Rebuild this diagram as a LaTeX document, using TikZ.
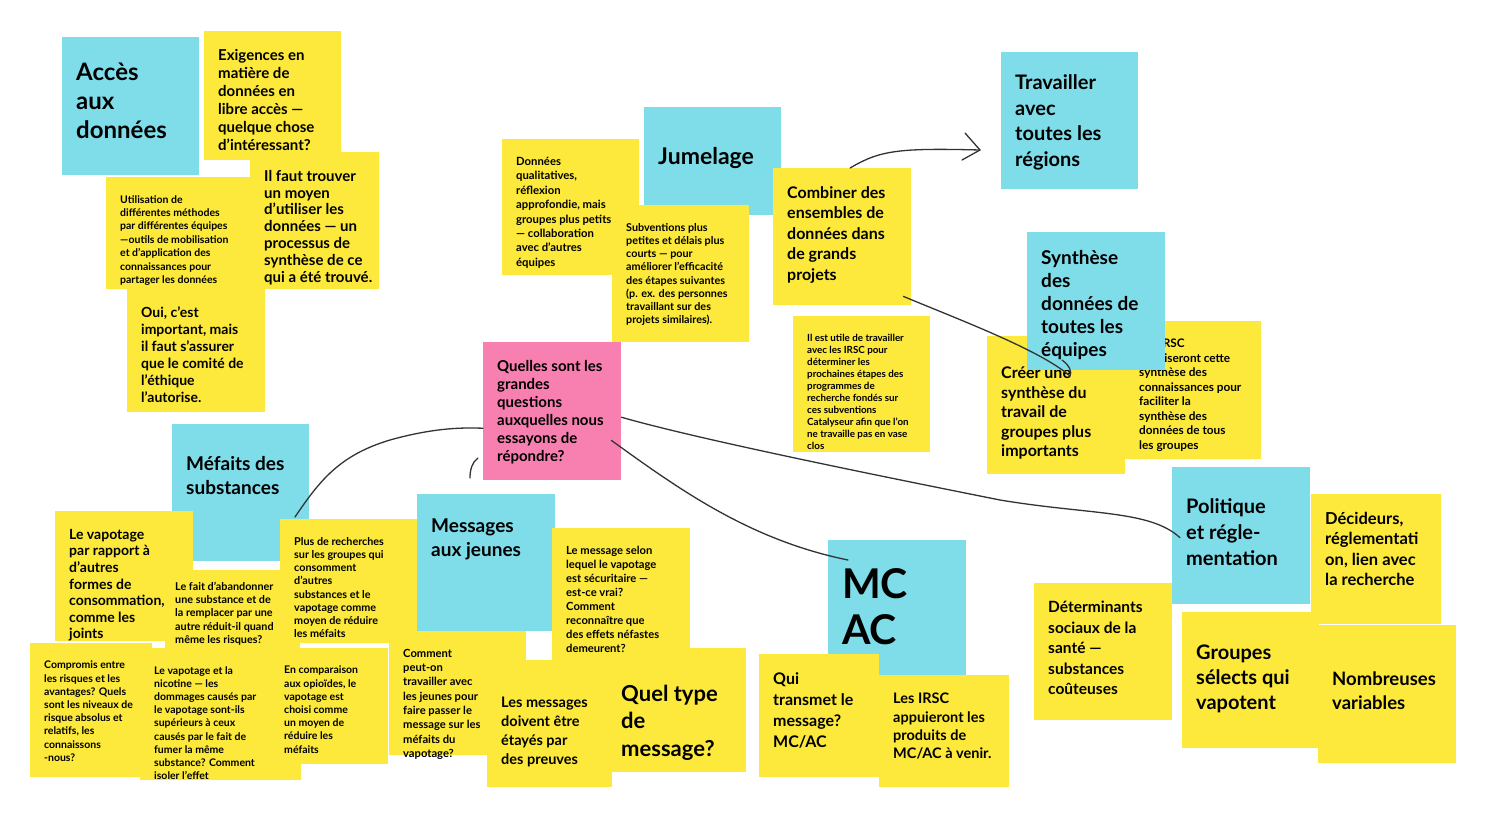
\documentclass[tikz,border=0pt]{standalone}
\usepackage{fontspec}
\setmainfont{Lato}[UprightFont=* Bold]
\definecolor{sb}{HTML}{7FDCE9}
\definecolor{sy}{HTML}{FCE93C}
\definecolor{sp}{HTML}{F880B0}
\definecolor{ink}{HTML}{333333}
\newcommand\stick[8]{%
 \node[fill=#6,anchor=north west,minimum width=#4pt,minimum height=#5pt,inner sep=0pt] (#1) at (#2,#3) {};
 \node[anchor=north west,align=left,inner sep=0pt,font=\fontsize#7\selectfont] (#1t) at ([xshift=14pt,yshift=-18pt]#1.north west) {#8};}
\tikzset{wire/.style={ink,line width=1.3pt,line cap=round,line join=round}}
\begin{document}
\begin{tikzpicture}[x=1pt,y=-1pt]
\useasboundingbox (0,0) rectangle (1492,821);
\stick{acc}{62}{37}{137}{138}{sb}{{24}{29}}{\\[-4pt]Accès\\aux\\données}
\stick{exi}{204}{31}{137}{129}{sy}{{15}{18}}{Exigences en\\matière de\\données en\\libre accès —\\quelque chose\\d'intéressant?}
\stick{ilf}{250}{152}{129}{137}{sy}{{15}{16.8}}{Il faut trouver\\un moyen\\d'utiliser les\\données — un\\processus de\\synthèse de ce\\qui a été trouvé.}
\stick{uti}{106}{177}{146}{112}{sy}{{10.5}{13.4}}{Utilisation de\\différentes méthodes\\par différentes équipes\\—outils de mobilisation\\et d'application des\\connaissances pour\\partager les données}
\stick{oui}{127}{288}{138}{124}{sy}{{14}{17}}{Oui, c'est\\important, mais\\il faut s'assurer\\que le comité de\\l'éthique\\l'autorise.}
\stick{don}{502}{139}{137}{136}{sy}{{11.3}{14.4}}{Données\\qualitatives,\\réflexion\\approfondie, mais\\groupes plus petits\\— collaboration\\avec d'autres\\équipes}
\stick{jum}{644}{107}{137}{108}{sb}{{23}{27}}{\\[12pt]Jumelage}
\stick{sub}{612}{205}{137}{137}{sy}{{10.8}{13.2}}{Subventions plus\\petites et délais plus\\courts — pour\\améliorer l'efficacité\\des étapes suivantes\\(p. ex. des personnes\\travaillant sur des\\projets similaires).}
\stick{com}{773}{168}{138}{137}{sy}{{16}{20.5}}{Combiner des\\ensembles de\\données dans\\de grands\\projets}
\stick{tra}{1001}{52}{137}{137}{sb}{{20}{25.5}}{\\[-6pt]Travailler\\avec\\toutes les\\régions}
\stick{ile}{793}{316}{137}{136}{sy}{{9.8}{12}}{Il est utile de travailler\\avec les IRSC pour\\déterminer les\\prochaines étapes des\\programmes de\\recherche fondés sur\\ces subventions\\Catalyseur afin que l'on\\ne travaille pas en vase\\clos}
\stick{cre}{987}{336}{138}{138}{sy}{{16}{19.5}}{\\[5pt]Créer une\\synthèse du\\travail de\\groupes plus\\importants}
\stick{irs}{1125}{321}{136}{138}{sy}{{11.8}{14.5}}{Les IRSC\\prioriseront cette\\synthèse des\\connaissances pour\\faciliter la\\synthèse des\\données de tous\\les groupes}
\stick{syn}{1027}{232}{138}{138}{sb}{{19}{23}}{Synthèse\\des\\données de\\toutes les\\équipes}
\stick{que}{483}{342}{138}{138}{sp}{{15}{18}}{Quelles sont les\\grandes\\questions\\auxquelles nous\\essayons de\\répondre?}
\stick{mef}{172}{424}{137}{137}{sb}{{19}{24}}{\\[4pt]Méfaits des\\substances}
\stick{aba}{165}{570}{135}{80}{sy}{{10.5}{13.2}}{}
\stick{vap}{55}{511}{138}{130}{sy}{{14}{16.6}}{Le vapotage\\par rapport à\\d'autres\\formes de\\consommation,\\comme les\\joints}
\stick{plu}{280}{519}{138}{124}{sy}{{10.8}{13.2}}{Plus de recherches\\sur les groupes qui\\consomment\\d'autres\\substances et le\\vapotage comme\\moyen de réduire\\les méfaits}
\node (abat) [anchor=north west,align=left,inner sep=0pt,font=\fontsize{10.8}{13.2}\selectfont] at (aba.north west) [xshift=10pt,yshift=-12pt] {Le fait d'abandonner\\une substance et de\\la remplacer par une\\autre réduit-il quand\\même les risques?};
\stick{cpr}{30}{643}{122}{134}{sy}{{10.5}{13.2}}{Compromis entre\\les risques et les\\avantages? Quels\\sont les niveaux de\\risque absolus et\\relatifs, les\\connaissons\\-nous?}
\stick{nic}{140}{648}{161}{132}{sy}{{10.5}{13.2}}{Le vapotage et la\\nicotine — les\\dommages causés par\\le vapotage sont-ils\\supérieurs à ceux\\causés par le fait de\\fumer la même\\substance? Comment\\isoler l'effet}
\stick{opi}{270}{648}{118}{116}{sy}{{10.5}{13.2}}{En comparaison\\aux opioïdes, le\\vapotage est\\choisi comme\\un moyen de\\réduire les\\méfaits}
\stick{msg}{417}{494}{138}{137}{sb}{{19}{24}}{\\[-4pt]Messages\\aux jeunes}
\stick{cpo}{389}{631}{137}{124}{sy}{{11.2}{14.3}}{Comment\\peut-on\\travailler avec\\les jeunes pour\\faire passer le\\message sur les\\méfaits du\\vapotage?}
\stick{doi}{487}{660}{125}{127}{sy}{{14.5}{19}}{\\[10pt]Les messages\\doivent être\\étayés par\\des preuves}
\stick{qty}{607}{648}{139}{124}{sy}{{22}{27.5}}{\\[-20pt]\\Quel type\\de\\message?}
\stick{sel}{552}{528}{138}{132}{sy}{{11.2}{14}}{Le message selon\\lequel le vapotage\\est sécuritaire —\\est-ce vrai?\\Comment\\reconnaître que\\des effets néfastes\\demeurent?}
\stick{mca}{828}{540}{138}{137}{sb}{{41}{46}}{\\[-6pt]MC\\AC}
\stick{qui}{759}{654}{120}{123}{sy}{{16}{21}}{Qui\\transmet le\\message?\\MC/AC}
\stick{app}{879}{675}{130}{112}{sy}{{14.5}{18.2}}{Les IRSC\\appuieront les\\produits de\\MC/AC à venir.}
\stick{det}{1034}{583}{138}{137}{sy}{{15.5}{20.5}}{Déterminants\\sociaux de la\\santé —\\substances\\coûteuses}
\stick{dec}{1311}{494}{130}{130}{sy}{{16.5}{20.5}}{Décideurs,\\réglementati\\on, lien avec\\la recherche}
\stick{pol}{1172}{467}{138}{137}{sb}{{20}{26}}{\\[2pt]Politique\\et régle-\\mentation}
\stick{grp}{1182}{612}{137}{136}{sy}{{20}{25}}{\\[4pt]Groupes\\sélects qui\\vapotent}
\stick{nom}{1318}{625}{138}{138}{sy}{{18.5}{24}}{\\[18pt]Nombreuses\\variables}
% connectors
\coordinate (a1) at (980,150);
\draw[wire] ([xshift=8pt]com.north) .. controls (880,150) and (900,148) .. (a1);
\draw[wire] (965,133) -- (980,150) -- (962,160);
\coordinate (c1) at (1070,376);
\draw[wire] ([xshift=-8pt,yshift=9pt]com.south east) .. controls (960,320) and (1040,350) .. (c1);
\draw[wire] (1062,360) .. controls (1070,366) and (1072,372) .. (c1);
\draw[wire] ([yshift=-6pt]que.east) .. controls (700,440) and (900,480) .. (1000,500) .. controls (1090,515) and (1150,510) .. ([xshift=8pt,yshift=-2pt]pol.west);
\draw[wire] ([xshift=-10pt,yshift=40pt]que.south east) .. controls (680,490) and (750,540) .. ([xshift=20pt,yshift=-20pt]mca.north west);
\draw[wire] ([yshift=-17pt]que.west) .. controls (470,428) and (440,426) .. (390,440) .. controls (340,455) and (320,480) .. (295,517);
\draw[wire] (478,458) .. controls (472,462) and (470,470) .. (470,478);
\end{tikzpicture}
\end{document}
